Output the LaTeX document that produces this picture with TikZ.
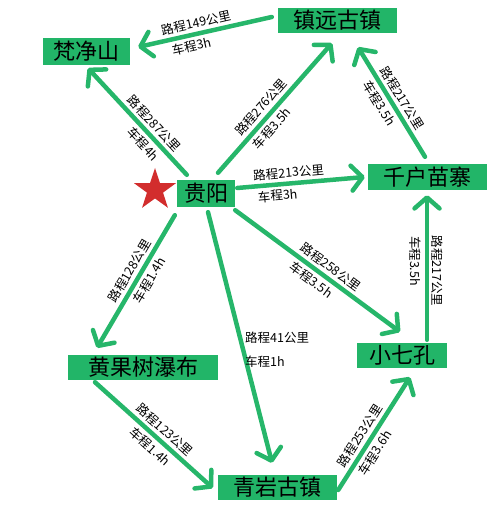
\documentclass[tikz,border=0pt]{standalone}
\usepackage{fontspec}
\setmainfont{Noto Sans CJK SC}
\usetikzlibrary{arrows.meta,shapes.geometric,calc}
\definecolor{boxgreen}{RGB}{34,181,104}
\definecolor{arrgreen}{RGB}{38,182,106}
\definecolor{starred}{RGB}{210,45,45}
\begin{document}
\begin{tikzpicture}[x=1pt,y=-1pt,
 place/.style={fill=boxgreen, inner sep=0pt, font=\fontsize{22}{22}\selectfont, text=black},
 arr/.style={draw=arrgreen, line width=4.5pt, line cap=round, -{Straight Barb[length=11pt,width=25pt,round]}},
 lbl/.style={font=\fontsize{12.5}{13}\selectfont, inner sep=0pt, text=black},
 up/.style={lbl, sloped, above=3pt},
 dn/.style={lbl, sloped, below=3pt}]
\useasboundingbox (0,0) rectangle (500,518);
% places
\node[place, minimum width=87pt, minimum height=27pt] (fj) at (86.5,51.5) {梵净山};
\node[place, minimum width=119pt, minimum height=25pt] (zy) at (337.5,20.5) {镇远古镇};
\node[place, minimum width=58pt, minimum height=27pt] (gy) at (206,193.5) {贵阳};
\node[place, minimum width=119pt, minimum height=26pt] (qh) at (427.5,177) {千户苗寨};
\node[place, minimum width=90pt, minimum height=25pt] (xq) at (402,355.5) {小七孔};
\node[place, minimum width=150pt, minimum height=25pt] (hg) at (143,367.5) {黄果树瀑布};
\node[place, minimum width=119pt, minimum height=25pt] (qy) at (277.5,487.5) {青岩古镇};
\node[star, star points=5, star point ratio=2.6, fill=starred, minimum size=44pt, inner sep=0pt] (st) at (155,190) {};
% arrows with labels
\draw[arr] ([shift={(-6,-3.5)}]zy.west) -- ([shift={(8,-4.5)}]fj.east)
  node[up, pos=0.55] (l1a) {路程149公里}
  node[dn, pos=0.62] (l1b) {车程3h};
\draw[arr] ([shift={(10,-5)}]gy.north west) -- ([shift={(1.5,3)}]fj.south)
  node[up, pos=0.41] (l2a) {路程287公里}
  node[dn, pos=0.36] (l2b) {车程4h};
\draw[arr] ([shift={(12,-7)}]gy.north) -- ([shift={(-5.5,10)}]zy.south)
  node[up, pos=0.45] (l3a) {路程276公里}
  node[dn, pos=0.40] (l3b) {车程3.5h};
\draw[arr] ([shift={(-2.5,-7)}]qh.north) -- ([shift={(20.5,14)}]zy.south)
  node[up, pos=0.48] (l4a) {路程217公里}
  node[dn, pos=0.54] (l4b) {车程3.5h};
\draw[arr] ([shift={(2,-5.5)}]gy.east) -- ([shift={(-3,0)}]qh.west)
  node[up, pos=0.41] (l5a) {路程213公里}
  node[dn, pos=0.31] (l5b) {车程3h};
\draw[arr] ([shift={(0,3)}]gy.south east) -- ([shift={(-2,-11)}]xq.north)
  node[up, pos=0.54] (l6a) {路程258公里}
  node[dn, pos=0.50] (l6b) {车程3.5h};
\draw[arr] ([shift={(25,-3)}]xq.north) -- ([shift={(-0.5,5)}]qh.south);
\draw[arr] ([shift={(-2,8)}]gy.south west) -- ([shift={(-46,-7)}]hg.north)
  node[up, pos=0.46] (l8a) {路程128公里}
  node[dn, pos=0.45] (l8b) {车程1.4h};
\draw[arr] ([shift={(2,5)}]gy.south) -- ([shift={(-5.5,-12)}]qy.north);
\draw[arr] ([shift={(-48,2)}]hg.south) -- ([shift={(-5,0.5)}]qy.west)
  node[up, pos=0.53] (l10a) {路程123公里}
  node[dn, pos=0.53] (l10b) {车程1.4h};
\draw[arr] ([shift={(1,2.5)}]qy.east) -- ([shift={(8,9)}]xq.south)
  node[up, pos=0.43] (l11a) {路程253公里}
  node[dn, pos=0.38] (l11b) {车程3.6h};
% labels of the vertical and the long arrows
\node[lbl, rotate=-90] (l7a) at (437,271) {路程217公里};
\node[lbl, rotate=-90] (l7b) at (415,261) {车程3.5h};
\node[lbl, anchor=west] (l9a) at (245,338) {路程41公里};
\node[lbl, anchor=west] (l9b) at (245,362) {车程1h};
\end{tikzpicture}
\end{document}
